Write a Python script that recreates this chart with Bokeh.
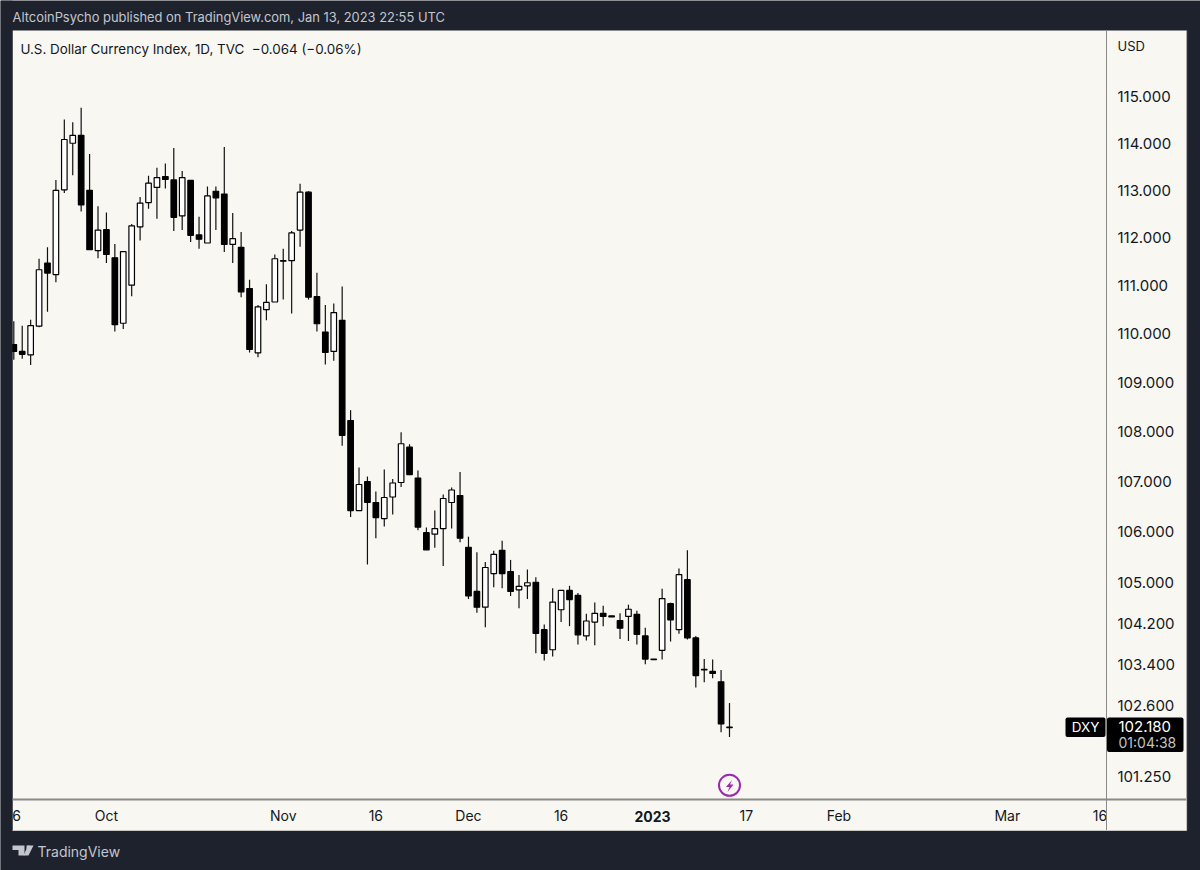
from bokeh.plotting import figure
from bokeh.models import Range1d, FixedTicker, NumeralTickFormatter, BoxAnnotation, Label, PolyAnnotation, ColumnDataSource
from bokeh.embed import file_html
from bokeh.resources import INLINE

opens = [109.78,109.64,109.57,110.16,111.47,111.23,113.01,114.00,114.17,113.00,111.73,112.17,111.58,110.22,111.01,112.23,112.74,113.06,113.29,113.22,
         112.46,113.21,112.06,111.89,112.98,112.92,111.86,111.80,110.94,109.61,110.50,110.66,111.52,111.52,112.16,112.96,110.77,110.04,109.64,110.28,
         108.23,106.42,107.00,106.58,106.26,106.69,106.98,107.69,107.07,105.98,105.95,106.06,106.58,106.72,105.69,104.82,104.51,105.17,105.63,105.21,
         104.85,104.93,105.00,104.07,103.68,104.46,104.84,104.74,103.95,104.22,104.39,104.34,104.25,104.33,104.37,103.95,103.50,103.67,104.58,104.07,
         105.05,103.91,103.30,103.26,103.06,102.19]
highs = [110.26,110.17,110.29,111.56,111.80,113.22,114.51,114.45,114.76,113.77,112.66,112.53,111.87,111.71,112.29,112.86,113.31,113.48,113.57,113.90,
         113.41,113.21,112.44,113.08,113.08,113.92,112.52,112.12,111.12,110.60,111.03,111.65,111.77,112.14,113.14,112.98,111.27,110.60,110.63,110.98,
         108.44,107.28,107.10,106.80,107.24,107.05,107.99,107.75,107.22,106.08,106.42,106.74,106.88,107.19,105.90,105.59,105.40,105.62,105.82,105.44,
         105.14,105.25,105.10,104.17,104.88,104.84,104.93,104.79,104.38,104.60,104.54,104.34,104.39,104.56,104.44,104.11,103.50,104.87,104.60,105.27,
         105.63,103.95,103.50,103.49,103.29,102.65]
lows = [109.47,109.49,109.36,110.14,110.46,111.07,112.94,113.32,112.55,111.75,111.57,111.47,110.05,110.10,110.78,111.94,112.61,112.40,113.04,112.14,
        112.16,111.91,111.77,111.89,112.16,111.70,111.47,110.76,109.62,109.52,110.28,110.66,110.71,110.42,111.81,110.71,110.05,109.37,109.45,107.72,
        106.29,106.42,105.35,105.87,106.10,106.34,106.89,107.13,106.03,105.64,105.68,105.32,106.06,105.79,104.67,104.40,104.12,104.90,104.88,104.73,
        104.49,104.67,103.61,103.47,103.55,104.22,104.14,103.78,103.86,103.77,104.14,104.32,103.89,103.85,103.78,103.40,103.49,103.49,103.84,103.99,
        103.88,102.95,103.05,103.13,102.09,102.00]
closes = [109.64,109.58,110.17,111.33,111.26,113.00,114.08,114.17,112.69,111.75,112.16,111.65,110.19,111.71,112.25,112.73,113.15,113.27,113.23,112.43,
          113.27,112.05,111.97,112.88,112.84,111.86,111.98,110.87,109.68,110.56,110.65,111.56,111.51,112.10,112.96,110.76,110.21,109.62,110.44,107.93,
          106.42,106.94,106.58,106.28,106.68,106.97,107.76,107.14,106.09,105.64,106.06,106.66,106.83,105.87,104.73,104.51,105.29,105.55,105.17,104.82,
          104.92,104.99,104.00,103.61,104.61,104.84,104.66,103.97,104.24,104.39,104.33,104.32,104.10,104.47,103.98,103.50,103.49,104.68,104.26,105.15,
          103.91,103.18,103.29,103.22,102.25,102.18]
price_ticks = [115.0,114.0,113.0,112.0,111.0,110.0,109.0,108.0,107.0,106.0,105.0,104.2,103.4,102.6,101.25]
time_ticks = [0,11,32,43,54,65,76,87,98,118,129]
time_labels = ["16","Oct","Nov","16","Dec","16","2023","17","Feb","Mar","16"]
event_bar = [85]
event_price = [101.08]

BG = "#f8f7f2"
DARK = "#1e222d"
EDGE = "#8a8a86"
FONT = "Inter"

p = figure(width=1200, height=870, output_backend="svg", toolbar_location=None,
           y_axis_type="log", y_axis_location="right",
           x_range=Range1d(-1.58, 140.94), y_range=Range1d(99.48, 117.09),
           min_border=0,
           background_fill_color=DARK, border_fill_color=DARK, outline_line_color=None)
p.grid.visible = False

def box(l, t, r, b, color, level="underlay", radius=0):
    p.add_layout(BoxAnnotation(left=l, right=r, top=t, bottom=b,
                               left_units="canvas", right_units="canvas", top_units="canvas", bottom_units="canvas",
                               fill_color=color, fill_alpha=1, line_color=None, level=level, border_radius=radius))

def label(x, y, s, color="#131722", size="13px", align="left", font=FONT, style="normal"):
    p.add_layout(Label(x=x, y=y, x_units="canvas", y_units="canvas", text=s, text_color=color,
                       text_font_size=size, text_align=align, text_baseline="middle", text_font=font,
                       text_font_style=style, level="overlay"))

box(12, 30, 1186, 830, BG)

source = ColumnDataSource(dict(i=list(range(len(opens))), o=opens, h=highs, l=lows, c=closes,
    top=[max(a, b) for a, b in zip(opens, closes)], bot=[min(a, b) for a, b in zip(opens, closes)],
    fill=["#ffffff" if c > o else "#000000" for o, c in zip(opens, closes)]))
p.segment("i", "h", "i", "l", source=source, line_color="#111111", line_width=1.2)
p.vbar(x="i", top="top", bottom="bot", width=0.66, source=source, fill_color="fill", line_color="#000000", line_width=1.2)

p.scatter(event_bar, event_price, size=21, fill_alpha=0, line_color="#9c27b0", line_width=2)

ax = p.yaxis[0]
ax.fixed_location = 129.77
ax.ticker = FixedTicker(ticks=price_ticks, minor_ticks=[])
ax.formatter = NumeralTickFormatter(format="0.000")
ax.major_tick_line_color = None
ax.minor_tick_line_color = None
ax.axis_line_color = None
ax.major_label_standoff = 5
ax.major_label_text_font = FONT
ax.major_label_text_font_size = "15px"
ax.major_label_text_color = "#131722"

xa = p.xaxis[0]
xa.fixed_location = 100.81
xa.ticker = FixedTicker(ticks=time_ticks, minor_ticks=[])
# the year is set bold, so it is drawn as a label of its own below
xa.major_label_overrides = {t: ("" if s == "2023" else s) for t, s in zip(time_ticks, time_labels)}
xa.major_tick_line_color = None
xa.minor_tick_line_color = None
xa.axis_line_color = None
xa.major_label_standoff = 1
xa.major_label_text_font = FONT
xa.major_label_text_font_size = "14px"
xa.major_label_text_color = "#131722"

# frame edges and clipping of the time labels
box(0, 0, 12, 870, DARK, level="overlay")
box(1107, 800, 1186, 830, BG, level="overlay")
box(12, 798, 1186, 800, EDGE, level="overlay")
box(1105.5, 30, 1106.5, 830, EDGE, level="overlay")
box(12, 829.5, 1186, 830.5, "#c8c8c4", level="overlay")
box(1186, 30, 1186.6, 830, "#c8c8c4", level="overlay")

label(652, 816, "2023", size="14px", align="center", style="bold")

# last price tags
box(1065, 717, 1105, 736.5, "#000000", level="overlay", radius=2)
box(1106.5, 717, 1183, 751.5, "#000000", level="overlay", radius=2)
label(1085, 726, "DXY", color="#ffffff", align="center", size="13.5px")
label(1118, 726, "102.180", color="#ffffff", size="15px")
label(1118, 742, "01:04:38", color="#c4c4c4", size="14px")

# header, legend and footer
label(12, 17, "AltcoinPsycho published on TradingView.com, Jan 13, 2023 22:55 UTC", color="#c3c6ce", size="12.9px")
label(20, 48, "U.S. Dollar Currency Index, 1D, TVC\u00a0\u00a0\u22120.064 (\u22120.06%)", size="13.4px")
label(1117, 45, "USD", size="13px")
label(37, 851, "TradingView", color="#c3c6ce", size="14px")

# logo
logo = "#c3c6ce"
p.add_layout(PolyAnnotation(xs=[12, 24, 24, 18, 18, 12], ys=[845, 845, 855, 855, 849.5, 849.5],
                            xs_units="canvas", ys_units="canvas", fill_color=logo, fill_alpha=1, line_color=None, level="overlay"))
p.add_layout(PolyAnnotation(xs=[26, 29, 29, 26], ys=[845, 845, 848.5, 848.5],
                            xs_units="canvas", ys_units="canvas", fill_color=logo, fill_alpha=1, line_color=None, level="overlay"))
p.add_layout(PolyAnnotation(xs=[27.5, 33, 28, 23], ys=[845, 845, 855, 855],
                            xs_units="canvas", ys_units="canvas", fill_color=logo, fill_alpha=1, line_color=None, level="overlay"))

# lightning bolt of the event mark
p.add_layout(PolyAnnotation(xs=[731.5, 725.5, 729, 727, 733, 729.5], ys=[779.5, 786.5, 786.5, 791.5, 784, 784],
                            xs_units="canvas", ys_units="canvas", fill_color="#9c27b0", fill_alpha=1, line_color=None, level="overlay"))

open("out.html", "w").write(file_html(p, INLINE))
